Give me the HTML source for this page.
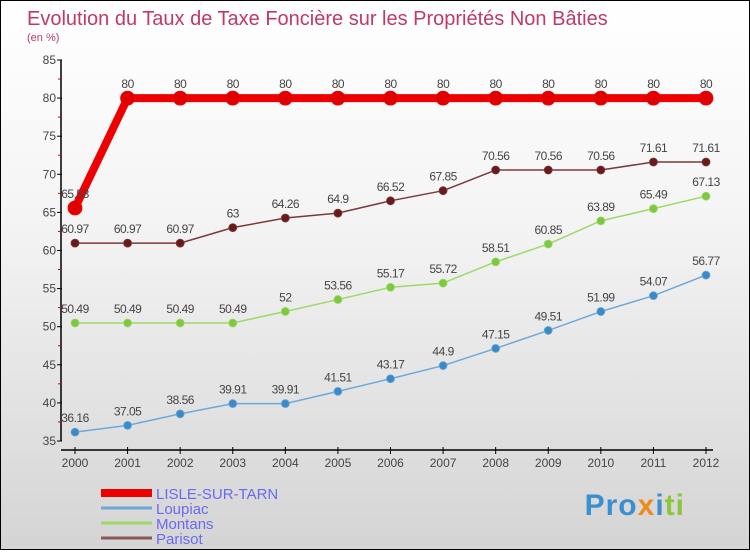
<!DOCTYPE html>
<html><head><meta charset="utf-8"><style>
body{margin:0}
#c{width:748px;height:548px;border:1px solid #000;background:linear-gradient(#fff 0%,#f4f4f4 40%,#d4d4d4 100%);position:relative;font-family:"Liberation Sans",sans-serif}
</style></head><body>
<div id="c">
<svg id="s" width="748" height="548" xmlns="http://www.w3.org/2000/svg">
<text x="26" y="24" font-size="20" fill="#c0396a">Evolution du Taux de Taxe Foncière sur les Propriétés Non Bâties</text>
<text x="26" y="40" font-size="11" fill="#c0396a">(en %)</text>
<g id="g"></g>
</svg>
<div style="position:absolute;right:64px;top:488px;font-size:30px;font-weight:bold;letter-spacing:1px"><span style="color:#3a8fd0">Pro</span><span style="color:#f08a1c">x</span><span style="color:#3a8fd0">i</span><span style="color:#8cc63f">ti</span></div>
</div>
<script>
const years=[2000,2001,2002,2003,2004,2005,2006,2007,2008,2009,2010,2011,2012];
const yTicks=[35,40,45,50,55,60,65,70,75,80,85];
const lisle=[65.58,80,80,80,80,80,80,80,80,80,80,80,80];
const loupiac=[36.16,37.05,38.56,39.91,39.91,41.51,43.17,44.9,47.15,49.51,51.99,54.07,56.77];
const montans=[50.49,50.49,50.49,50.49,52,53.56,55.17,55.72,58.51,60.85,63.89,65.49,67.13];
const parisot=[60.97,60.97,60.97,63,64.26,64.9,66.52,67.85,70.56,70.56,70.56,71.61,71.61];
const NS="http://www.w3.org/2000/svg",g=document.getElementById('g');
const X=i=>74+i*(705-74)/(years.length-1);
const Y=v=>440-(v-35)*(440-59)/50;
function el(t,a){const e=document.createElementNS(NS,t);for(const k in a)e.setAttribute(k,a[k]);g.appendChild(e);return e;}
let e=el('line',{x1:60,y1:59,x2:60,y2:440,stroke:'#000','stroke-width':1.5});

e=el('line',{x1:60,y1:449,x2:712,y2:449,stroke:'#000','stroke-width':1.5});

yTicks.forEach((v,i)=>{
 let t=el('line',{x1:56,y1:Y(v),x2:61,y2:Y(v),stroke:'#000'});
 
 if(i<yTicks.length-1){let m=el('line',{x1:57,y1:Y(v+2.5),x2:60,y2:Y(v+2.5),stroke:'#d00'});}
 let l=el('text',{x:55,y:Y(v)+4,'font-size':12,fill:'#444','text-anchor':'end'});l.textContent=v;
 
});
years.forEach((y,i)=>{
 let t=el('line',{x1:X(i),y1:446,x2:X(i),y2:453,stroke:'#000'});
 
 let l=el('text',{x:X(i),y:466,'font-size':12,fill:'#444','text-anchor':'middle'});l.textContent=y;
 
});
function series(d,col,dot,w,r,name){
 let p=el('polyline',{points:d.map((v,i)=>X(i)+','+Y(v)).join(' '),fill:'none',stroke:col,'stroke-width':w,'stroke-linejoin':'round'});
 
 d.forEach((v,i)=>{
  let c=el('circle',{cx:X(i),cy:Y(v),r:r,fill:dot,stroke:col,'stroke-width':0.8});
  
  let t=el('text',{x:X(i),y:Y(v)-10,'font-size':12,fill:'#444','text-anchor':'middle','letter-spacing':'-0.5'});t.textContent=v;
  
 });
}
series(loupiac,'#6fa8d8','#3a8ac8',1.5,4,'loupiac');
series(montans,'#9ed86a','#7cc840',1.5,4,'montans');
series(parisot,'#7a3a3a','#6a1a1a',1.5,4,'parisot');
series(lisle,'#ee0000','#e00000',8,7,'lisle-sur-tarn');
const leg=[['LISLE-SUR-TARN','#ee0000',8],['Loupiac','#6fa8d8',3],['Montans','#9ed86a',3],['Parisot','#8a5a5a',3]];
leg.forEach((L,i)=>{
 let y=492+i*15;
 let ln=el('line',{x1:100,y1:y,x2:151,y2:y,stroke:L[1],'stroke-width':L[2]});
 
 let t=el('text',{x:155,y:y+6,'font-size':15,fill:'#6a6af0'});t.textContent=L[0];
 
});
</script>
</body></html>
